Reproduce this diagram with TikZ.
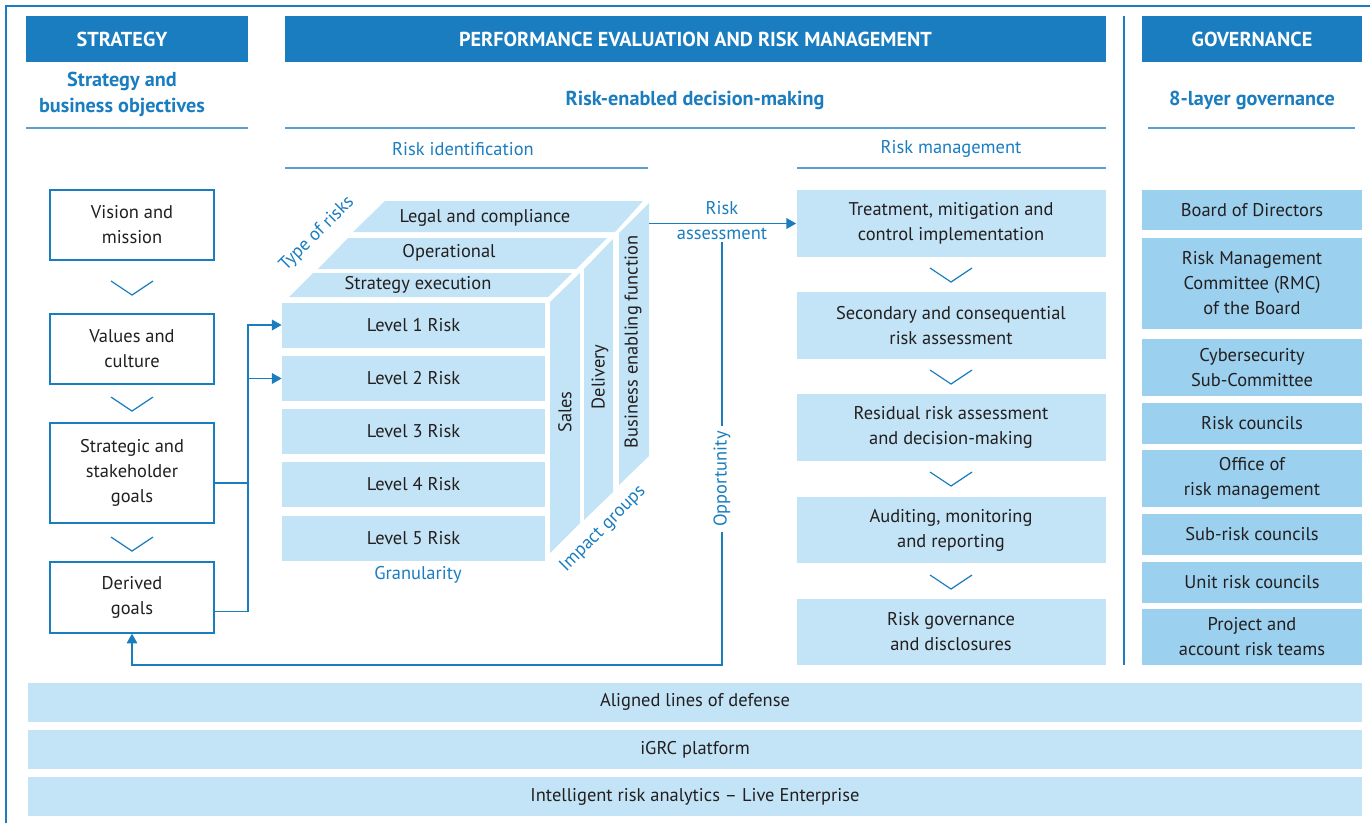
\documentclass[tikz,border=0pt]{standalone}
\usepackage{fontspec}
\setsansfont{PT Sans}
\usepackage{tikz}
\usetikzlibrary{
  arrows.meta,
  calc,
}
\definecolor{brand}{HTML}{1A7DC0}
\definecolor{paleblue}{HTML}{C3E4F6}
\definecolor{govblue}{HTML}{9BD0EF}
\definecolor{ink}{HTML}{231F20}
\definecolor{rulecol}{HTML}{5A9FD4}
\tikzset{
  >={Triangle[length=5.5pt,width=6pt]},
  font=\sffamily\fontsize{10.5}{14.2}\selectfont,
  every node/.append style={text=ink},
  sz/.style 2 args={minimum width=#1*0.02cm, minimum height=#2*0.02cm},
  hdr/.style={fill=brand, text=white, inner sep=0pt,
    font=\sffamily\bfseries\fontsize{11.5}{14}\selectfont},
  hdrtxt/.style={text=white, inner sep=0pt,
    font=\sffamily\bfseries\fontsize{11.5}{14}\selectfont},
  subhd/.style={text=brand, align=center,
    font=\sffamily\bfseries\fontsize{11.5}{14.5}\selectfont},
  bluelbl/.style={text=brand},
  tilted/.style={text=brand, rotate=#1, inner sep=0pt},
  rule/.style={draw=rulecol, line width=0.8pt},
  goalbox/.style={draw=brand, fill=white, line width=0.8pt, align=center, inner sep=0pt},
  riskbox/.style={fill=paleblue, align=center, inner sep=0pt},
  govbox/.style={fill=govblue, align=center, inner sep=0pt},
  face/.style={fill=paleblue},
  conn/.style={draw=brand, line width=0.8pt},
  pics/chev/.style={
    code={
      \draw[brand, line width=0.7pt] (-21,-7) -- (0,7) -- (21,-7);
    }
  },
}

\begin{document}
\begin{tikzpicture}[x=0.02cm, y=-0.02cm]
  \useasboundingbox (0,0) rectangle (1370,823);
  \draw[brand, line width=0.8pt] (6,823) -- (6,6) -- (1370,6);

  % column heads
  \node[hdr, sz={222}{46}] (hstrat) at (137,39) {};
  \node[hdrtxt] (tstrat) at (122,39) {STRATEGY};
  \node[hdr, sz={821}{46}] (hperf) at (695.5,39) {PERFORMANCE EVALUATION AND RISK MANAGEMENT};
  \node[hdr, sz={220}{46}] (hgov) at (1252,39) {GOVERNANCE};
  \node[subhd] (sstrat) at (122,94.5) {Strategy and\\business objectives};
  \node[subhd] (sperf) at (695,100) {Risk-enabled decision-making};
  \node[subhd] (sgov) at (1252,100) {8-layer governance};
  \draw[rule] (26,128) -- (248,128);
  \draw[rule] (285,128) -- (1106,128);
  \draw[rule] (1148,128) -- (1355,128);
  \draw[brand, line width=0.8pt] (1124,16) -- (1124,665);
  \node[bluelbl] (rid) at (463,149) {Risk identification};
  \draw[rule] (285,168) -- (648,168);
  \node[bluelbl] (rmg) at (951,149) {Risk management};
  \draw[rule] (797,168) -- (1106,168);

  % Strategy column
  \node[goalbox, sz={164}{70}] (vision) at (132,225) {Vision and\\mission};
  \node[goalbox, sz={164}{70}] (values) at (132,349) {Values and\\culture};
  \node[goalbox, sz={164}{100}] (sgoal) at (132,473) {Strategic and\\stakeholder\\goals};
  \node[goalbox, sz={164}{71}] (dgoal) at (132,597.5) {Derived\\goals};
  \pic at (132,288) {chev};
  \pic at (132,404) {chev};
  \pic at (132,544) {chev};

  % Risk cube
  \fill[face] (289,297) -- (548,297) -- (572,273) -- (313,273) -- cycle;
  \fill[face] (318,269) -- (576,269) -- (607,238) -- (348,238) -- cycle;
  \fill[face] (353,232) -- (615,232) -- (643,201) -- (385,201) -- cycle;
  \fill[face] (550,302) -- (580,273) -- (580,523) -- (550,553) -- cycle;
  \fill[face] (584,269) -- (613,239) -- (613,492) -- (584,520) -- cycle;
  \fill[face] (619,233) -- (649,203) -- (649,456) -- (619,485) -- cycle;
  \node[inner sep=0pt] (tse) at (418,285) {Strategy execution};
  \node[inner sep=0pt] (top) at (449,253) {Operational};
  \node[inner sep=0pt] (tlc) at (485,218) {Legal and compliance};
  \node[rotate=90, inner sep=0pt] (gsal) at (565,412) {Sales};
  \node[rotate=90, inner sep=0pt] (gdel) at (600,377) {Delivery};
  \node[rotate=90, inner sep=0pt] (gbef) at (633,342) {Business enabling function};
  \node[riskbox, sz={263}{45}] (lvl1) at (413.5,325) {Level 1 Risk};
  \node[riskbox, sz={263}{45}] (lvl2) at (413.5,378.5) {Level 2 Risk};
  \node[riskbox, sz={263}{45}] (lvl3) at (413.5,431.5) {Level 3 Risk};
  \node[riskbox, sz={263}{45}] (lvl4) at (413.5,484.5) {Level 4 Risk};
  \node[riskbox, sz={263}{45}] (lvl5) at (413.5,538) {Level 5 Risk};
  \node[tilted=45] (ltype) at (317,234) {Type of risks};
  \node[tilted=45] (limp) at (603,529) {Impact groups};
  \node[bluelbl] (lgran) at (418,575) {Granularity};

  % Risk management column
  \node[riskbox, sz={309}{67}] (treat) at (951,223.5) {Treatment, mitigation and\\control implementation};
  \node[riskbox, sz={309}{67}] (second) at (951,325.5) {Secondary and consequential\\risk assessment};
  \node[riskbox, sz={309}{67}] (resid) at (951,427.5) {Residual risk assessment\\and decision-making};
  \node[riskbox, sz={309}{66}] (audit) at (951,530) {Auditing, monitoring\\and reporting};
  \node[riskbox, sz={309}{66}] (rgov) at (951,632) {Risk governance\\and disclosures};
  \pic at (951,275) {chev};
  \pic at (951,377) {chev};
  \pic at (951,479) {chev};
  \pic at (951,582) {chev};

  % Governance column
  \node[govbox, sz={220}{40}] (board) at (1252,210) {Board of Directors};
  \node[govbox, sz={220}{91}] (rmc) at (1252,283.5) {Risk Management\\Committee (RMC)\\of the Board};
  \node[govbox, sz={220}{57}] (cyber) at (1252,367.5) {Cybersecurity\\Sub-Committee};
  \node[govbox, sz={220}{41}] (rcoun) at (1252,423.5) {Risk councils};
  \node[govbox, sz={220}{57}] (orm) at (1252,478.5) {Office of\\risk management};
  \node[govbox, sz={220}{41}] (subrc) at (1252,534) {Sub-risk councils};
  \node[govbox, sz={220}{41}] (unitrc) at (1252,582.5) {Unit risk councils};
  \node[govbox, sz={220}{56}] (proj) at (1252,637) {Project and\\account risk teams};

  % bottom bars
  \node[riskbox, sz={1334}{39}] (lod) at (695,702) {Aligned lines of defense};
  \node[riskbox, sz={1334}{39}] (igrc) at (695,749.5) {iGRC platform};
  \node[riskbox, sz={1334}{39}] (ira) at (695,796.5) {Intelligent risk analytics – Live Enterprise};

  % connectors
  \coordinate (bus) at (248,483);
  \draw[conn] ($(sgoal.east)+(0,10)$) -- (bus);
  \draw[conn] ($(dgoal.east)+(0,14)$) -| (bus);
  \draw[conn,->] (bus) |- (lvl1.west);
  \draw[conn,->] (bus) |- (lvl2.west);
  \coordinate (cuber) at (649,223.5);
  \node[bluelbl, align=center, inner sep=1pt] (ralab) at (722,221) {Risk\\assessment};
  \draw[conn,->] (cuber) -- (treat.west);
  \coordinate (oppend) at (722,665);
  \draw[conn,->] (ralab.south) -- node[pos=0.56, fill=white, rotate=90, text=brand, inner sep=3pt] (opp) {Opportunity} (oppend) -| (dgoal.south);
\end{tikzpicture}
\end{document}
